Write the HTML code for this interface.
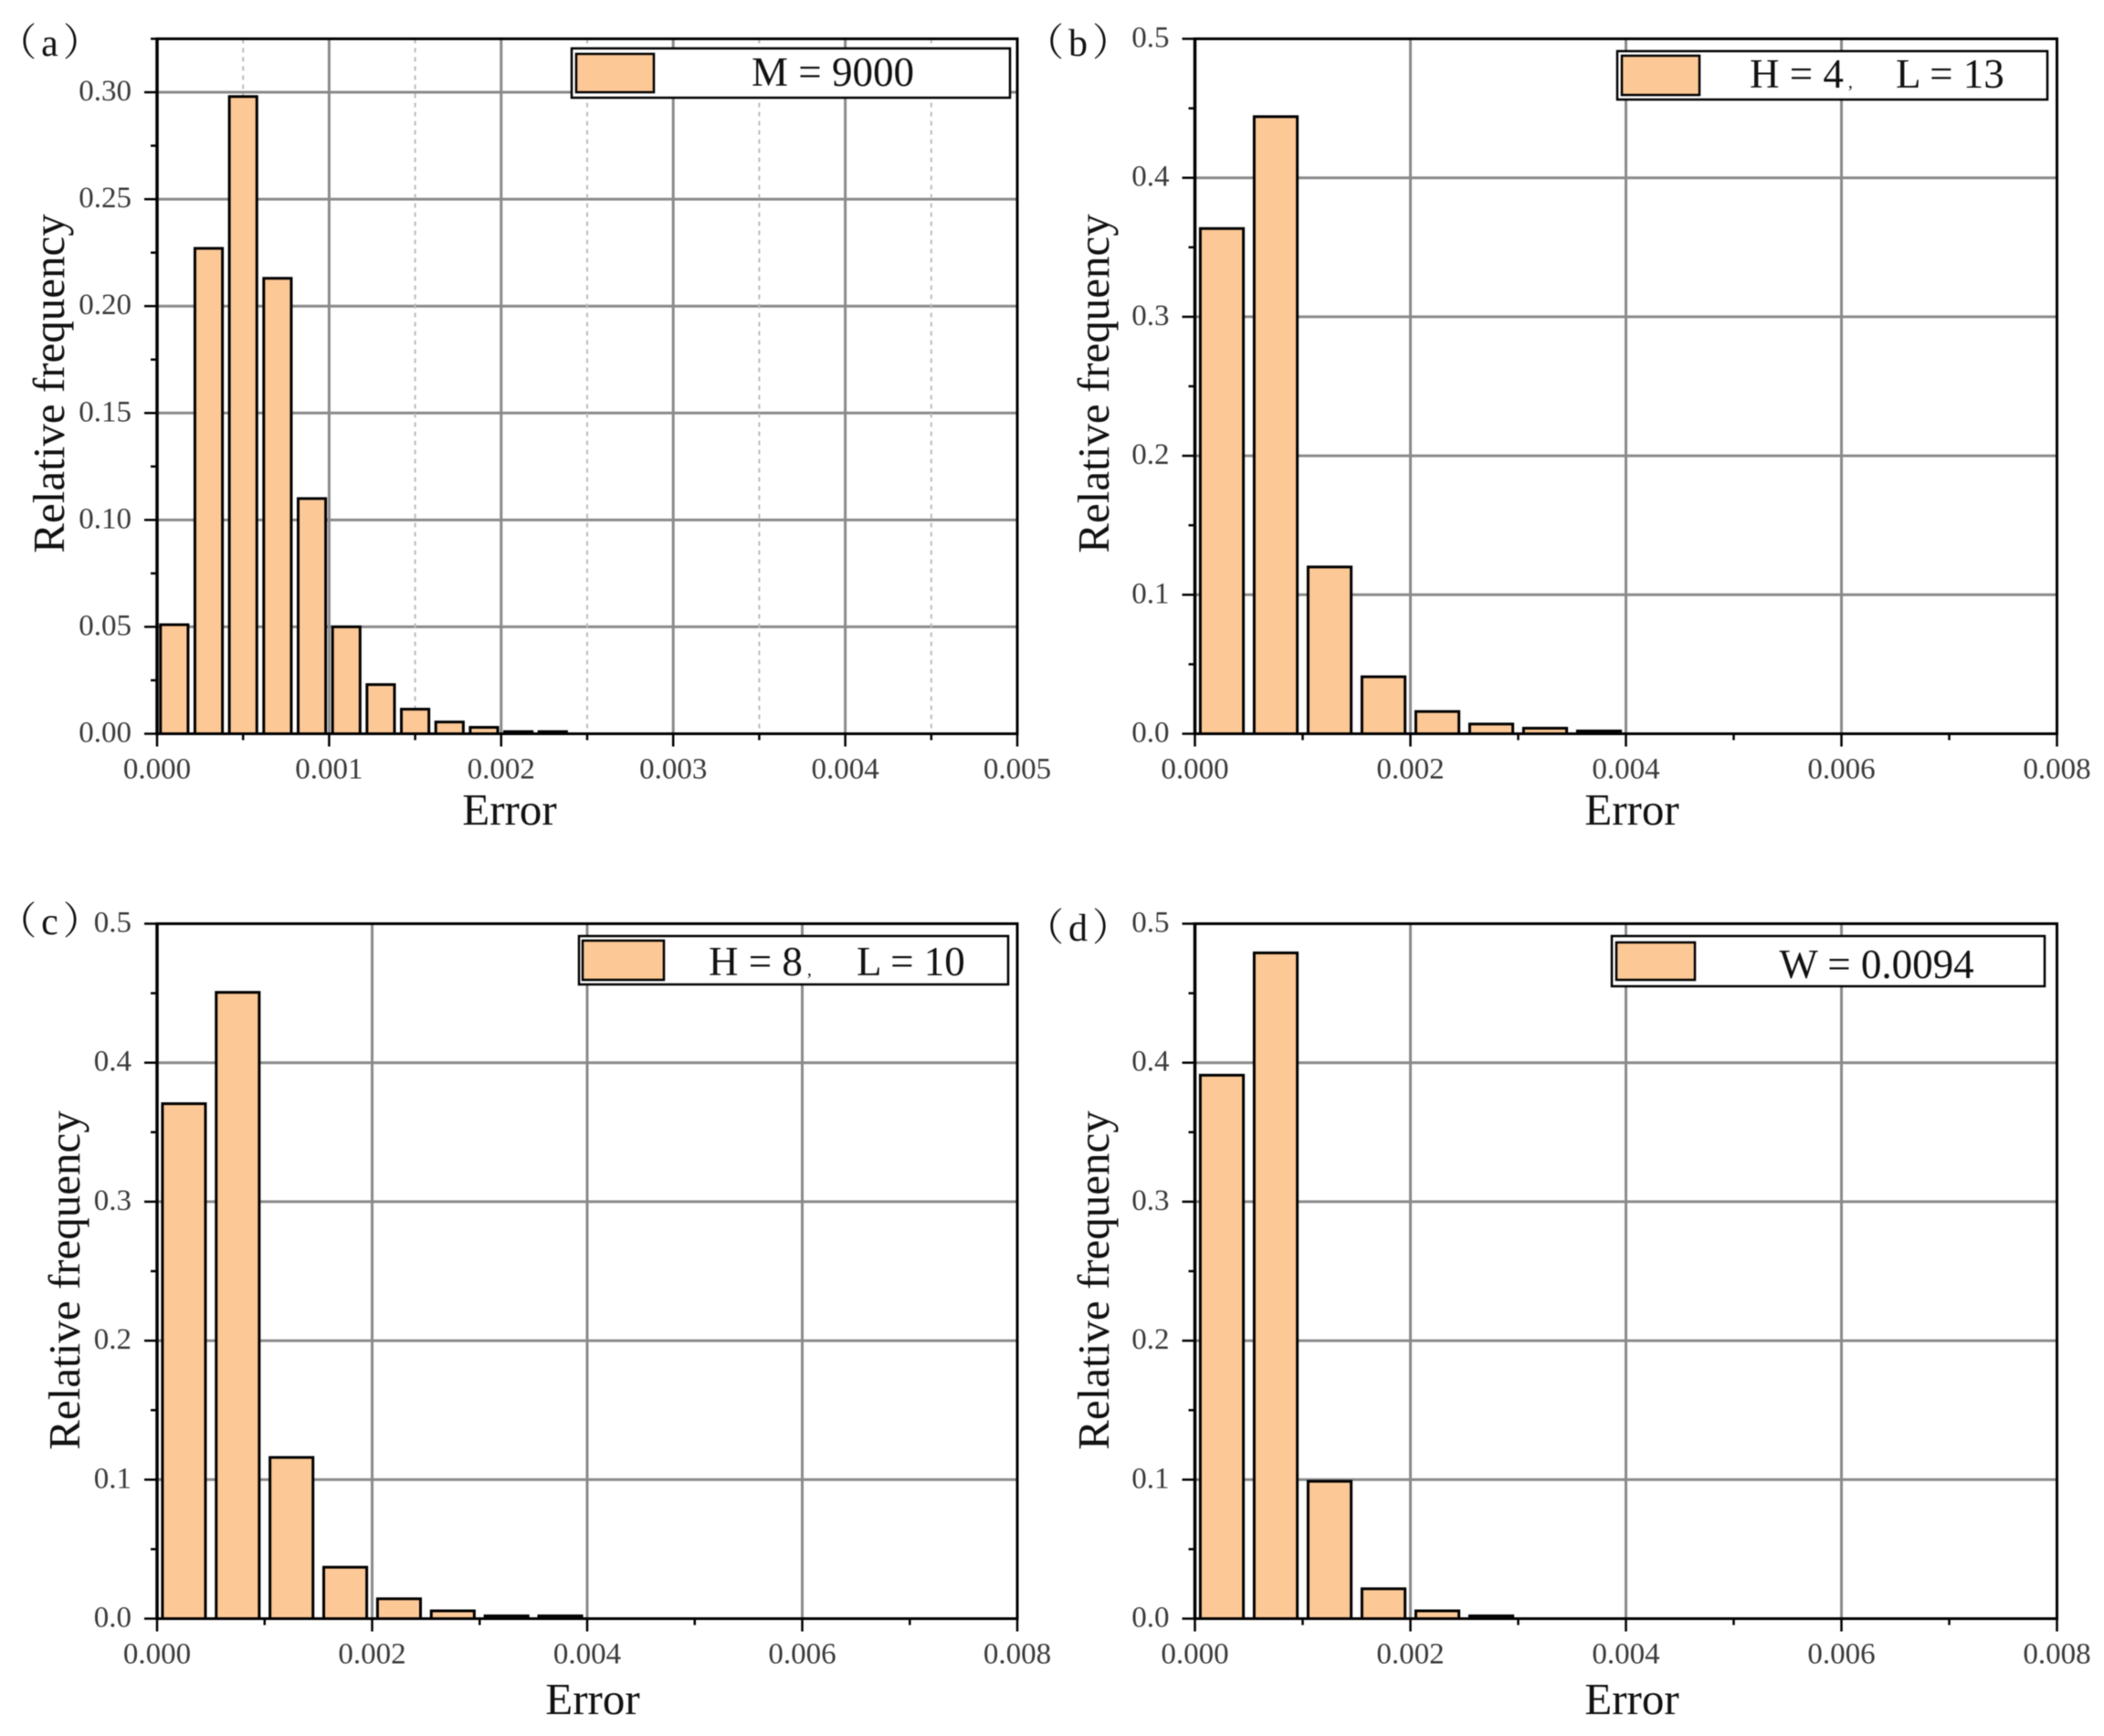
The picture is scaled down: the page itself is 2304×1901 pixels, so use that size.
<!DOCTYPE html>
<html lang="en">
<head>
<meta charset="utf-8">
<title>Relative frequency of error histograms</title>
<style>
  html, body { margin: 0; padding: 0; background: #fff; }
  #figure { display: block; filter: blur(0.6px); }
  text { font-family: "Liberation Serif", "Noto Serif CJK SC", serif; fill: #111; }
  .tick { font-size: 33px; fill: #3a3a3a; }
  .title { font-size: 49px; }
  .legend { font-size: 45px; }
  .tag { font-size: 42px; letter-spacing: 5px; }
</style>
</head>
<body>
<svg id="figure" xmlns="http://www.w3.org/2000/svg" width="2304" height="1901" viewBox="0 0 2304 1901">
  <rect width="2304" height="1901" fill="#fff"/>

  <g>
    <g id="plot-a"></g>
    <text class="tag" x="57" y="61" text-anchor="middle">（a）</text>
    <text class="title" x="558" y="903" text-anchor="middle">Error</text>
    <text class="title" transform="translate(70 420) rotate(-90)" text-anchor="middle">Relative frequency</text>
    <g>
      <rect x="626" y="53" width="480" height="54" fill="#fff" stroke="#000" stroke-width="2.5"/>
      <rect x="631" y="59" width="85" height="42" fill="#fcc896" stroke="#000" stroke-width="2.5"/>
      <text class="legend" x="912" y="94" text-anchor="middle">M = 9000</text>
    </g>
  </g>

  <g>
    <g id="plot-b"></g>
    <text class="tag" x="1183" y="61" text-anchor="middle">（b）</text>
    <text class="title" x="1787" y="903" text-anchor="middle">Error</text>
    <text class="title" transform="translate(1214 420) rotate(-90)" text-anchor="middle">Relative frequency</text>
    <g>
      <rect x="1771" y="56" width="471" height="53" fill="#fff" stroke="#000" stroke-width="2.5"/>
      <rect x="1776" y="61" width="85" height="43" fill="#fcc896" stroke="#000" stroke-width="2.5"/>
      <text class="legend" y="96"><tspan x="1916">H = 4</tspan><tspan font-size="20" dx="5">,</tspan><tspan x="2076">L = 13</tspan></text>
    </g>
  </g>

  <g>
    <g id="plot-c"></g>
    <text class="tag" x="57" y="1023" text-anchor="middle">（c）</text>
    <text class="title" x="649" y="1877" text-anchor="middle">Error</text>
    <text class="title" transform="translate(87 1402) rotate(-90)" text-anchor="middle">Relative frequency</text>
    <g>
      <rect x="634" y="1025" width="470" height="53" fill="#fff" stroke="#000" stroke-width="2.5"/>
      <rect x="638" y="1030" width="89" height="43" fill="#fcc896" stroke="#000" stroke-width="2.5"/>
      <text class="legend" y="1068"><tspan x="776">H = 8</tspan><tspan font-size="20" dx="5">,</tspan><tspan x="938">L = 10</tspan></text>
    </g>
  </g>

  <g>
    <g id="plot-d"></g>
    <text class="tag" x="1183" y="1030" text-anchor="middle">（d）</text>
    <text class="title" x="1787" y="1877" text-anchor="middle">Error</text>
    <text class="title" transform="translate(1214 1402) rotate(-90)" text-anchor="middle">Relative frequency</text>
    <g>
      <rect x="1765" y="1025" width="474" height="55" fill="#fff" stroke="#000" stroke-width="2.5"/>
      <rect x="1770" y="1032" width="86" height="41" fill="#fcc896" stroke="#000" stroke-width="2.5"/>
      <text class="legend" x="2055" y="1071" text-anchor="middle">W = 0.0094</text>
    </g>
  </g>
</svg>

<script>
// Series values (relative frequency per error bin)
const valuesA = [0.051, 0.227, 0.298, 0.213, 0.110, 0.050, 0.023, 0.0115, 0.0055, 0.003, 0.001, 0.001];
const valuesB = [0.3635, 0.444, 0.120, 0.041, 0.016, 0.007, 0.004, 0.002];
const valuesC = [0.3705, 0.4506, 0.116, 0.037, 0.0143, 0.0056, 0.002, 0.002];
const valuesD = [0.391, 0.479, 0.0988, 0.0215, 0.0056, 0.002];

// Bin widths of the histograms
const binWidthA = 0.0002;
const binWidthOther = 0.0005;

// Axis ranges
const xMaxA = 0.005;
const xMaxOther = 0.008;
const yMaxA = 0.325;
const yMaxOther = 0.5;

// Tick labels
const xTicksA = ['0.000', '0.001', '0.002', '0.003', '0.004', '0.005'];
const xTicksOther = ['0.000', '0.002', '0.004', '0.006', '0.008'];
const yTicksA = ['0.00', '0.05', '0.10', '0.15', '0.20', '0.25', '0.30'];
const yTicksOther = ['0.0', '0.1', '0.2', '0.3', '0.4', '0.5'];
const xMinorA = [0.0005, 0.0015, 0.0025, 0.0035, 0.0045];
const xMinorOther = [0.001, 0.003, 0.005, 0.007];
const yMinorA = [0.025, 0.075, 0.125, 0.175, 0.225, 0.275, 0.325];
const yMinorOther = [0.05, 0.15, 0.25, 0.35, 0.45];

const NS = 'http://www.w3.org/2000/svg';

function make(parent, tag, attrs) {
  const el = document.createElementNS(NS, tag);
  for (const k in attrs) el.setAttribute(k, attrs[k]);
  parent.appendChild(el);
  return el;
}

function drawPanel(id, box, values, bin, xMax, yMax, xTicks, yTicks, xMinor, yMinor, dottedMinorGrid) {
  const root = document.getElementById(id);
  const sx = v => box.left + (v / xMax) * (box.right - box.left);
  const sy = v => box.bottom - (v / yMax) * (box.bottom - box.top);

  // Grid lines
  yTicks.forEach(t => {
    const el = make(root, 'line', { x1: box.left, x2: box.right, y1: sy(+t), y2: sy(+t), stroke: '#8a8a8a', 'stroke-width': 3 });
    
    
  });
  xTicks.forEach(t => {
    const el = make(root, 'line', { x1: sx(+t), x2: sx(+t), y1: box.top, y2: box.bottom, stroke: '#8a8a8a', 'stroke-width': 3 });
    
    
  });
  if (dottedMinorGrid) {
    xMinor.forEach(t => {
      const el = make(root, 'line', { x1: sx(t), x2: sx(t), y1: box.top, y2: box.bottom, stroke: '#bbbbbb', 'stroke-width': 2, 'stroke-dasharray': '5 5' });
      
      
    });
  }

  // Bars
  values.forEach((v, i) => {
    const c = (i + 0.5) * bin;
    const w = sx(0.8 * bin) - sx(0);
    const el = make(root, 'rect', { x: sx(c) - w / 2, y: sy(v), width: w, height: sy(0) - sy(v), fill: '#fcc896', stroke: '#000', 'stroke-width': 3 });
    
    
  });

  // Frame
  const frameTop = make(root, 'line', { x1: box.left, x2: box.right + 1.5, y1: box.top, y2: box.top, stroke: '#000', 'stroke-width': 3 });
  
  
  const frameRight = make(root, 'line', { x1: box.right, x2: box.right, y1: box.top, y2: box.bottom, stroke: '#000', 'stroke-width': 3 });
  
  
  const axisY = make(root, 'line', { x1: box.left, x2: box.left, y1: box.top - 1.5, y2: box.bottom + 1.5, stroke: '#000', 'stroke-width': 3.5 });
  
  
  const axisX = make(root, 'line', { x1: box.left, x2: box.right + 1.5, y1: box.bottom, y2: box.bottom, stroke: '#000', 'stroke-width': 3 });
  
  

  // X ticks and labels
  xTicks.forEach(t => {
    const tick = make(root, 'line', { x1: sx(+t), x2: sx(+t), y1: box.bottom, y2: box.bottom + 14, stroke: '#000', 'stroke-width': 2.5 });
    
    
    const label = make(root, 'text', { class: 'tick', x: sx(+t), y: box.bottom + 49, 'text-anchor': 'middle' });
    
    
    label.textContent = t;
  });
  xMinor.forEach(t => {
    const tick = make(root, 'line', { x1: sx(t), x2: sx(t), y1: box.bottom, y2: box.bottom + 7, stroke: '#000', 'stroke-width': 2.5 });
    
    
  });

  // Y ticks and labels
  yTicks.forEach(t => {
    const tick = make(root, 'line', { x1: box.left - 14, x2: box.left, y1: sy(+t), y2: sy(+t), stroke: '#000', 'stroke-width': 2.5 });
    
    
    const label = make(root, 'text', { class: 'tick', x: box.left - 28, y: sy(+t) + 9, 'text-anchor': 'end' });
    
    
    label.textContent = t;
  });
  yMinor.forEach(t => {
    const tick = make(root, 'line', { x1: box.left - 7, x2: box.left, y1: sy(t), y2: sy(t), stroke: '#000', 'stroke-width': 2.5 });
    
    
  });
}

drawPanel('plot-a', { left: 172, right: 1114, top: 42.5, bottom: 803.5 }, valuesA, binWidthA, xMaxA, yMaxA, xTicksA, yTicksA, xMinorA, yMinorA, true);
drawPanel('plot-b', { left: 1308.5, right: 2252.5, top: 42.5, bottom: 803.5 }, valuesB, binWidthOther, xMaxOther, yMaxOther, xTicksOther, yTicksOther, xMinorOther, yMinorOther, false);
drawPanel('plot-c', { left: 172, right: 1114, top: 1011.5, bottom: 1772.5 }, valuesC, binWidthOther, xMaxOther, yMaxOther, xTicksOther, yTicksOther, xMinorOther, yMinorOther, false);
drawPanel('plot-d', { left: 1308.5, right: 2252.5, top: 1011.5, bottom: 1772.5 }, valuesD, binWidthOther, xMaxOther, yMaxOther, xTicksOther, yTicksOther, xMinorOther, yMinorOther, false);
</script>
</body>
</html>
